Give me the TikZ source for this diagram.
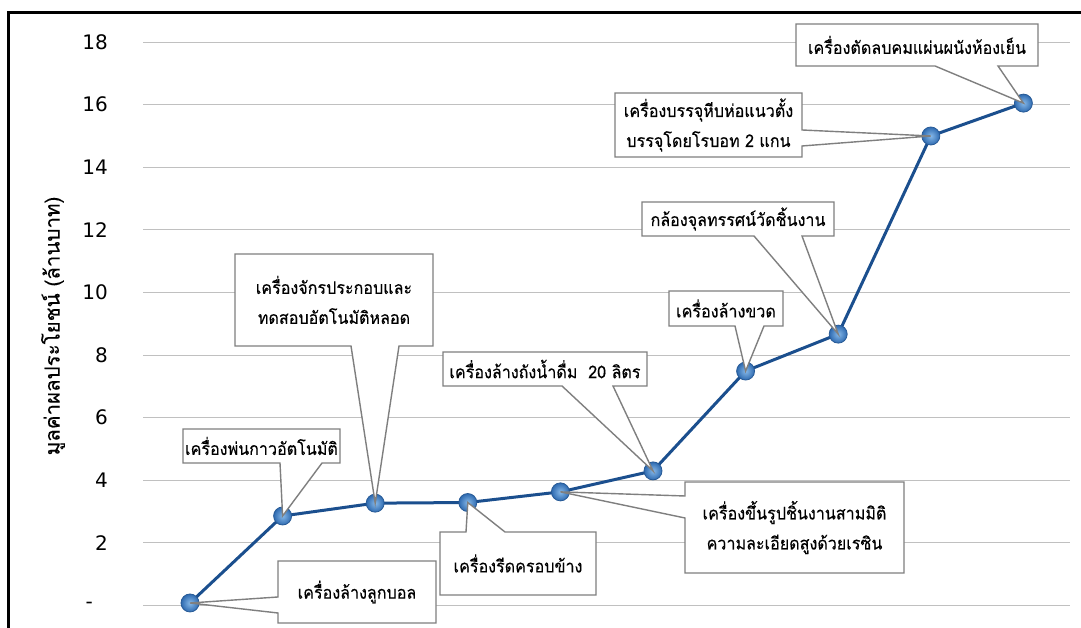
\documentclass[tikz,border=0pt]{standalone}
\usepackage{fontspec}
\setmainfont{DejaVu Sans}
\newfontfamily\thaifont[Script=Thai, FakeStretch=0.92, FakeBold=0.3]{Loma}
\newfontfamily\thaititle[Script=Thai, FakeBold=0.25]{Loma}
\usetikzlibrary{calc}

\definecolor{gridgray}{HTML}{C0C0C0}
\definecolor{boxgray}{HTML}{7F7F7F}
\definecolor{serieblue}{HTML}{1B4F8E}
\definecolor{markhi}{HTML}{86B8E8}
\definecolor{marklo}{HTML}{2E6AB0}

\tikzset{
  grid line/.style={draw=gridgray, line width=1pt},
  tick label/.style={anchor=east, font=\fontsize{20}{20}\selectfont, inner sep=0pt},
  series/.style={draw=serieblue, line width=3pt, line join=round},
  marker/.style={circle, minimum size=18pt, inner sep=0pt, draw=marklo!85!black,
    line width=0.8pt, inner color=markhi, outer color=marklo},
  boxarea/.style={inner sep=0pt, outer sep=0pt},
  boxframe/.style={fill=white, draw=boxgray, line width=1.4pt, line join=miter},
  boxtext/.style={font=\thaifont\fontsize{17.5}{30}\selectfont, align=center, inner sep=0pt},
}

% callout outlines: box #1, tip at point #2, wedge base between offsets #3 and #4
\newcommand{\tipbottom}[4]{\filldraw[boxframe] (#1.north west) -- (#1.north east) -- (#1.south east)
  -- ($(#1.south west)+(#4,0)$) -- (#2.center) -- ($(#1.south west)+(#3,0)$) -- (#1.south west) -- cycle;}
\newcommand{\tiptop}[4]{\filldraw[boxframe] (#1.south west) -- (#1.north west)
  -- ($(#1.north west)+(#3,0)$) -- (#2.center) -- ($(#1.north west)+(#4,0)$) -- (#1.north east) -- (#1.south east) -- cycle;}
\newcommand{\tipleft}[4]{\filldraw[boxframe] (#1.north east) -- (#1.north west)
  -- ($(#1.north west)+(0,-#3)$) -- (#2.center) -- ($(#1.north west)+(0,-#4)$) -- (#1.south west) -- (#1.south east) -- cycle;}
\newcommand{\tipright}[4]{\filldraw[boxframe] (#1.north west) -- (#1.north east)
  -- ($(#1.north east)+(0,-#3)$) -- (#2.center) -- ($(#1.north east)+(0,-#4)$) -- (#1.south east) -- (#1.south west) -- cycle;}

\begin{document}
\begin{tikzpicture}[x=1pt, y=1pt]
\useasboundingbox (0,0) rectangle (1081,628);
\fill[white] (0,0) rectangle (1081,628);

% frame
\draw[line width=2.5pt] (1081,615.5) -- (8.5,615.5) -- (8.5,0);

% horizontal grid and value labels
\foreach \v in {0,2,...,18} {
  \draw[grid line] (143,{22.5+31.3*\v}) -- (1070,{22.5+31.3*\v});
}
\foreach \v in {2,4,...,18} {
  \node[tick label] (tick\v) at (108,{22.5+31.3*\v}) {\v};
}
\node[tick label] (tick0) at (93,22.5) {-};

% axis title
\node[rotate=90, font=\thaititle\fontsize{20.5}{20.5}\selectfont, inner sep=0pt] (ytitle) at (53,302)
  {มูลค่าผลประโยชน์ (ล้านบาท)};

% data points
\foreach \i/\v in {0/0.08, 1/2.86, 2/3.27, 3/3.29, 4/3.63, 5/4.30, 6/7.49, 7/8.67, 8/15.0, 9/16.05} {
  \coordinate (p\i) at ({190+92.6*\i},{22.5+31.3*\v});
}
\draw[series] (p0) -- (p1) -- (p2) -- (p3) -- (p4) -- (p5) -- (p6) -- (p7) -- (p8) -- (p9);
\foreach \i in {0,...,9} { \node[marker] (m\i) at (p\i) {}; }

% callout boxes
\node[boxarea, minimum width=158pt, minimum height=62pt] (c0) at (357,36) {};
\node[boxarea, minimum width=157pt, minimum height=34pt] (c1) at (261.5,182) {};
\node[boxarea, minimum width=198pt, minimum height=92pt] (c2) at (334,328) {};
\node[boxarea, minimum width=156pt, minimum height=63pt] (c3) at (518,64.5) {};
\node[boxarea, minimum width=219pt, minimum height=91pt] (c4) at (794.5,100.5) {};
\node[boxarea, minimum width=204pt, minimum height=34pt] (c5) at (545,259) {};
\node[boxarea, minimum width=114pt, minimum height=35pt] (c6) at (726,319.5) {};
\node[boxarea, minimum width=192pt, minimum height=34pt] (c7) at (738,409) {};
\node[boxarea, minimum width=187pt, minimum height=64pt] (c8) at (708.5,503) {};
\node[boxarea, minimum width=242pt, minimum height=42pt] (c9) at (917,583) {};

\tipleft{c0}{p0}{36}{52}
\tipbottom{c1}{p1}{97}{139}
\tipbottom{c2}{p2}{116}{164}
\tiptop{c3}{p3}{26}{65}
\tipleft{c4}{p4}{14}{36}
\tipbottom{c5}{p5}{119}{170}
\tipbottom{c6}{p6}{66}{95}
\tipbottom{c7}{p7}{112}{160}
\tipright{c8}{p8}{37}{53}
\tipbottom{c9}{p9}{139}{202}

% callout texts
\node[boxtext] (l0) at (c0) {เครื่องล้างลูกบอล};
\node[boxtext] (l1) at (c1) {เครื่องพ่นกาวอัตโนมัติ};
\node[boxtext] (l2) at (c2) {เครื่องจักรประกอบและ\\ทดสอบอัตโนมัติหลอด};
\node[boxtext] (l3) at (c3) {เครื่องรีดครอบข้าง};
\node[boxtext] (l4) at (c4) {เครื่องขึ้นรูปชิ้นงานสามมิติ\\ความละเอียดสูงด้วยเรซิน};
\node[boxtext] (l5) at (c5) {เครื่องล้างถังน้ำดื่ม\ \ 20 ลิตร};
\node[boxtext] (l6) at (c6) {เครื่องล้างขวด};
\node[boxtext] (l7) at (c7) {กล้องจุลทรรศน์วัดชิ้นงาน};
\node[boxtext] (l8) at (c8) {เครื่องบรรจุหีบห่อแนวตั้ง\\บรรจุโดยโรบอท 2 แกน};
\node[boxtext] (l9) at (c9) {เครื่องตัดลบคมแผ่นผนังห้องเย็น};
\end{tikzpicture}
\end{document}
